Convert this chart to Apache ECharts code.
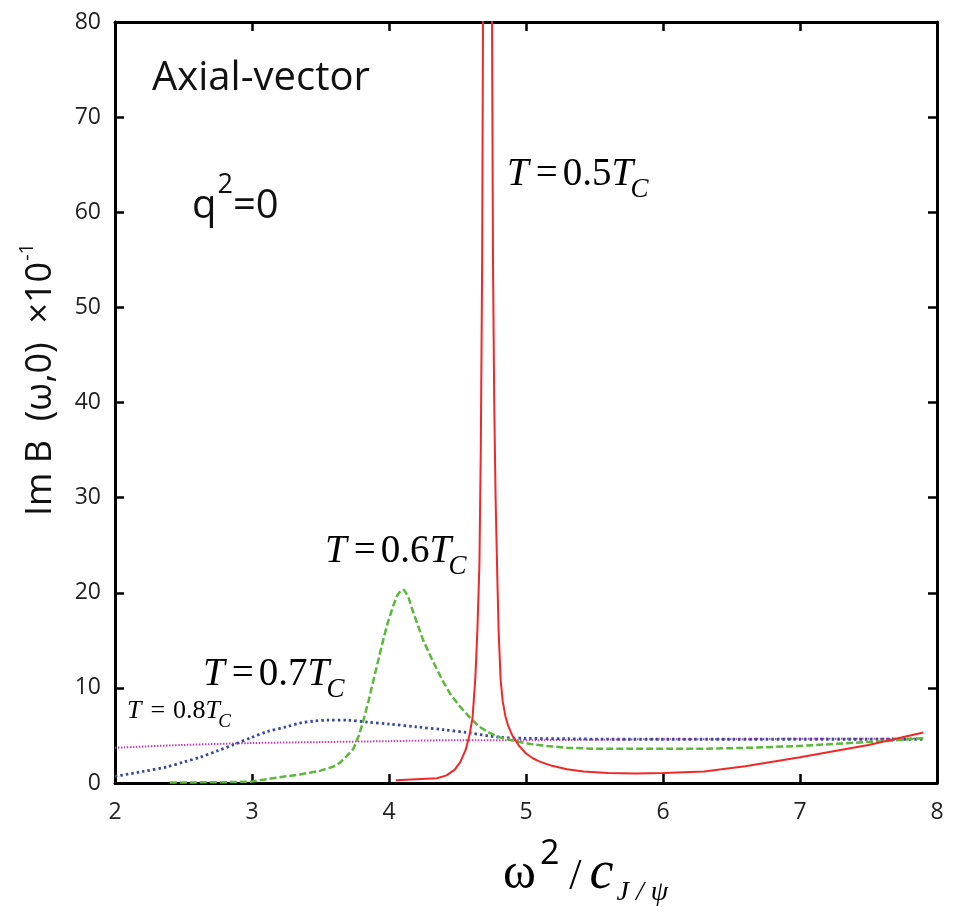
<!DOCTYPE html>
<html><head><meta charset="utf-8">
<script src="https://cdn.jsdelivr.net/npm/echarts@6/dist/echarts.min.js"></script>
<style>html,body{margin:0;padding:0;background:#fff}#c{width:959px;height:907px}</style>
</head><body><div id="c"></div>
<script>
// ---- data ----
const xTickLabels = ['2','3','4','5','6','7','8'];
const yTickLabels = ['0','10','20','30','40','50','60','70','80'];

const redX = [4.05, 4.2, 4.35, 4.42, 4.48, 4.52, 4.56, 4.59, 4.61, 4.63, 4.645, 4.66, 4.67, 4.68, 4.686, 4.70, 4.72, 4.74, 4.752, 4.759, 4.768, 4.778, 4.79, 4.80, 4.815, 4.83, 4.85, 4.87, 4.9, 4.95, 5.0, 5.05, 5.1, 5.18, 5.3, 5.42, 5.6, 5.8, 6.0, 6.3, 6.6, 7.0, 7.5, 7.9];
const redY = [0.3, 0.4, 0.5, 0.8, 1.4, 2.2, 3.5, 5.2, 6.9, 11, 16, 23, 35, 55, 80, 130, 160, 130, 80, 55, 40, 30, 22, 16, 10.8, 8.6, 7.0, 6.0, 5.0, 3.9, 3.1, 2.6, 2.25, 1.85, 1.45, 1.2, 1.05, 1.0, 1.05, 1.2, 1.75, 2.7, 4.0, 5.3];

const greenX = [2.4, 2.8, 3.0, 3.15, 3.35, 3.5, 3.59, 3.64, 3.69, 3.74, 3.78, 3.81, 3.85, 3.88, 3.91, 3.95, 3.99, 4.03, 4.06, 4.09, 4.11, 4.14, 4.18, 4.22, 4.25, 4.32, 4.39, 4.45, 4.52, 4.59, 4.66, 4.73, 4.81, 4.92, 5.03, 5.15, 5.30, 5.5, 5.9, 6.3, 6.63, 7.0, 7.36, 7.6, 7.9];
const greenY = [0.05, 0.08, 0.15, 0.5, 0.9, 1.3, 1.7, 2.1, 2.8, 3.6, 5.0, 6.4, 8.6, 10.4, 12.2, 14.6, 16.8, 18.6, 19.7, 20.3, 20.3, 19.6, 17.8, 16.2, 15.0, 12.8, 10.8, 9.3, 8.0, 6.9, 5.9, 5.3, 4.8, 4.4, 4.1, 3.9, 3.7, 3.6, 3.6, 3.6, 3.7, 3.9, 4.2, 4.4, 4.7];

const blueX = [2.0, 2.2, 2.38, 2.5, 2.62, 2.75, 2.86, 3.0, 3.11, 3.25, 3.35, 3.45, 3.55, 3.7, 3.84, 4.0, 4.2, 4.4, 4.57, 4.81, 5.0, 5.3, 5.66, 6.0, 6.5, 7.0, 7.5, 7.9];
const blueY = [0.7, 1.2, 1.7, 2.2, 2.7, 3.4, 4.0, 4.8, 5.4, 5.9, 6.3, 6.5, 6.6, 6.6, 6.4, 6.2, 5.9, 5.6, 5.3, 4.8, 4.7, 4.65, 4.6, 4.6, 4.6, 4.6, 4.6, 4.6];

const magX = [2.0, 2.5, 3.0, 3.5, 4.0, 4.5, 5.0, 5.5, 6.0, 6.5, 7.0, 7.5, 7.9];
const magY = [3.7, 4.0, 4.2, 4.3, 4.4, 4.5, 4.5, 4.55, 4.6, 4.6, 4.65, 4.65, 4.7];

// ---- helpers ----
const zip = (xs, ys) => xs.map((x, i) => [x, ys[i]]);
const mctx = document.createElement('canvas').getContext('2d');
const SERIF = "'Liberation Serif', 'Times New Roman', serif";
const SANS = "'Open Sans', 'Noto Sans', sans-serif";
function kFor(fam){ return fam === SERIF ? 0.34 : 0.38; }
function mathPieces(x0, base, parts){
  let cur = x0; const out = [];
  parts.forEach(p => {
    const st = p.style || 'normal';
    const fam = p.fam || SERIF;
    cur += (p.dx || 0);
    mctx.font = `${st} normal ${p.size}px ${fam}`;
    const w = mctx.measureText(p.t).width;
    const b = base + (p.dy || 0);
    out.push({type:'text', x: cur, y: b - kFor(fam)*p.size, silent:true,
      style:{text:p.t, fontSize:p.size, fontFamily:fam, fontStyle:st, fill:p.color||'#000',
             align:'left', verticalAlign:'middle'}});
    cur += w;
  });
  return out;
}
function tLabel(x0, base, num, size, subSize, subDy, gapEq, gapNum){
  return mathPieces(x0, base, [
    {t:'T', size:size, style:'italic'},
    {t:'=', size:size, dx:gapEq},
    {t:num, size:size, dx:gapNum},
    {t:'T', size:size, style:'italic'},
    {t:'C', size:subSize, style:'italic', dy:subDy, dx:-size*0.07}
  ]);
}

const graphics = [];
graphics.push(...mathPieces(152, 94, [{t:'Axial-vector', size:40, fam:SANS, color:'#111'}]));
graphics.push(...mathPieces(192, 222, [
  {t:'q', size:40, fam:SANS, color:'#111'},
  {t:'2', size:27, fam:SANS, color:'#111', dy:-26, dx:1},
  {t:'=0', size:40, fam:SANS, color:'#111'}
]));
graphics.push(...tLabel(507, 188, '0.5', 39, 27, 11, 7, 5));
graphics.push(...tLabel(325, 565, '0.6', 39, 27, 11, 7, 5));
graphics.push(...tLabel(203, 688, '0.7', 39, 27, 11, 7, 5));
graphics.push(...tLabel(127, 720, '0.8', 26, 19, 8, 9, 8));
// x axis name
graphics.push(...mathPieces(503, 892, [
  {t:'ω', size:50},
  {t:'2', size:34, fam:SANS, dy:-25, dx:4},
  {t:'/', size:44, dx:10},
  {t:'c', size:54, style:'italic', dx:8},
  {t:'J / ψ', size:28, style:'italic', dy:10, dx:3}
]));
// y axis name (rotated group)
graphics.push({type:'group', x:54, y:516, rotation:Math.PI/2, children: mathPieces(0, 0, [
  {t:'Im B  (ω,0)  ×10', size:36, fam:SANS, color:'#111'},
  {t:'-1', size:20, fam:SANS, color:'#111', dy:-19, dx:1}
])});

const axisLineStyle = {color:'#000', width:3};
const tickStyle = {show:true, inside:true, length:9, lineStyle:{color:'#000', width:2.5}};
const labelStyle = {fontFamily:SANS, fontSize:23, color:'#222'};

const chart = echarts.init(document.getElementById('c'), null, {renderer:'canvas'});
chart.setOption({
  animation:false,
  backgroundColor:'#fff',
  grid:{left:115, right:22, top:22, bottom:124, containLabel:false},
  xAxis:[
    {type:'value', min:2, max:8, interval:1, position:'bottom',
     axisLine:{show:true, onZero:false, lineStyle:axisLineStyle}, axisTick:tickStyle,
     axisLabel:Object.assign({margin:18, formatter:(v)=>xTickLabels[Math.round(v-2)] ?? ''}, labelStyle),
     splitLine:{show:false}},
    {type:'value', min:2, max:8, interval:1, position:'top',
     axisLine:{show:true, onZero:false, lineStyle:axisLineStyle}, axisTick:tickStyle,
     axisLabel:{show:false}, splitLine:{show:false}}
  ],
  yAxis:[
    {type:'value', min:0, max:80, interval:10, position:'left',
     axisLine:{show:true, onZero:false, lineStyle:axisLineStyle}, axisTick:tickStyle,
     axisLabel:Object.assign({margin:14, formatter:(v)=>yTickLabels[Math.round(v/10)] ?? ''}, labelStyle),
     splitLine:{show:false}},
    {type:'value', min:0, max:80, interval:10, position:'right',
     axisLine:{show:true, onZero:false, lineStyle:axisLineStyle}, axisTick:tickStyle,
     axisLabel:{show:false}, splitLine:{show:false}}
  ],
  series:[
    {name:'T=0.8Tc', type:'line', data:zip(magX, magY), showSymbol:false, clip:true, smooth:0.3,
     lineStyle:{color:'#c040b0', width:2, type:[1.5,1.5]}, z:2},
    {name:'T=0.7Tc', type:'line', data:zip(blueX, blueY), showSymbol:false, clip:true, smooth:0.3,
     lineStyle:{color:'#3848a0', width:2.8, type:[2.5,3]}, z:3},
    {name:'T=0.6Tc', type:'line', data:zip(greenX, greenY), showSymbol:false, clip:true,
     lineStyle:{color:'#5ab83a', width:2.5, type:[7,3]}, z:4},
    {name:'T=0.5Tc', type:'line', data:zip(redX, redY), showSymbol:false, clip:true,
     lineStyle:{color:'#f02828', width:2}, z:5}
  ],
  graphic:graphics
});
</script></body></html>
